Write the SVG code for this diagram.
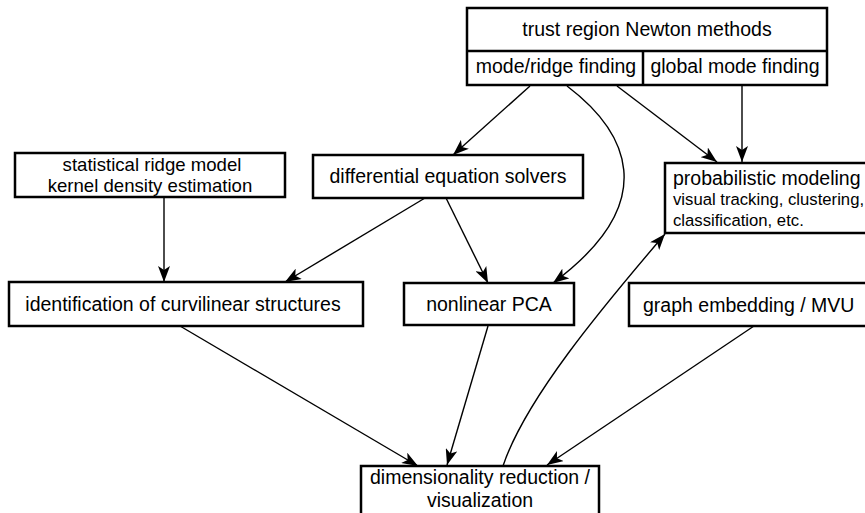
<svg xmlns="http://www.w3.org/2000/svg" width="865" height="513" viewBox="0 0 865 513">
<style>
.box{fill:#fff;stroke:#000;stroke-width:2.5}
.t{font-family:"Liberation Sans",Arial,sans-serif;font-size:19.5px;fill:#000}
.t2{font-family:"Liberation Sans",Arial,sans-serif;font-size:18.6px;fill:#000}
.s{font-family:"Liberation Sans",Arial,sans-serif;font-size:16.7px;fill:#000}
.m{text-anchor:middle}
.c{fill:none;stroke:#000;stroke-width:1.4}
</style>
<defs>
<marker id="ah" viewBox="0 0 16 12" refX="16" refY="6" markerWidth="16" markerHeight="12" markerUnits="userSpaceOnUse" orient="auto">
<path d="M16,6 L0,0 L4,6 L0,12 Z" fill="#000"/>
</marker>
</defs>
<rect width="865" height="513" fill="#fff"/>
<g id="connectors">
<line class="c" x1="530" y1="86" x2="453" y2="155" marker-end="url(#ah)"/>
<path class="c" d="M567,86 C625,130 665,200 553,283" marker-end="url(#ah)"/>
<line class="c" x1="617" y1="86" x2="717" y2="162" marker-end="url(#ah)"/>
<line class="c" x1="742" y1="86" x2="742" y2="162" marker-end="url(#ah)"/>
<line class="c" x1="164" y1="198" x2="164" y2="282" marker-end="url(#ah)"/>
<line class="c" x1="425" y1="198" x2="285" y2="282" marker-end="url(#ah)"/>
<line class="c" x1="446" y1="198" x2="488" y2="283" marker-end="url(#ah)"/>
<line class="c" x1="180" y1="326" x2="418" y2="466" marker-end="url(#ah)"/>
<line class="c" x1="488" y1="326" x2="447" y2="465" marker-end="url(#ah)"/>
<path class="c" d="M503,466 C525,400 600,310 665,234" marker-end="url(#ah)"/>
<line class="c" x1="754" y1="326" x2="547" y2="465" marker-end="url(#ah)"/>
</g>
<g id="trust-region">
<rect class="box" x="467" y="8" width="360" height="77"/>
<line x1="467" y1="51" x2="827" y2="51" stroke="#000" stroke-width="2.5"/>
<line x1="643" y1="51" x2="643" y2="85" stroke="#000" stroke-width="2.5"/>
<text class="t m" x="647" y="36">trust region Newton methods</text>
<text class="t m" x="556" y="73">mode/ridge finding</text>
<text class="t m" x="735" y="73">global mode finding</text>
</g>
<g id="stat-ridge">
<rect class="box" x="15" y="153" width="270" height="44"/>
<text class="t2 m" x="152" y="171">statistical ridge model</text>
<text class="t2 m" x="150" y="192">kernel density estimation</text>
</g>
<g id="diff-eq">
<rect class="box" x="313" y="155" width="270" height="43"/>
<text class="t m" x="448" y="183">differential equation solvers</text>
</g>
<g id="prob-model">
<rect class="box" x="665" y="163" width="210" height="70"/>
<text class="t" x="673" y="185">probabilistic modeling</text>
<text class="s" x="673" y="205">visual tracking, clustering,</text>
<text class="s" x="673" y="226">classification, etc.</text>
</g>
<g id="identification">
<rect class="box" x="9" y="282" width="354" height="44"/>
<text class="t m" x="183" y="311">identification of curvilinear structures</text>
</g>
<g id="nonlinear-pca">
<rect class="box" x="404" y="283" width="170" height="42"/>
<text class="t m" x="489" y="311">nonlinear PCA</text>
</g>
<g id="graph-embedding">
<rect class="box" x="629" y="283" width="240" height="43"/>
<text class="t" x="643" y="312">graph embedding / MVU</text>
</g>
<g id="dim-reduction">
<rect class="box" x="361" y="466" width="238" height="60"/>
<text class="t m" x="480" y="484">dimensionality reduction /</text>
<text class="t m" x="480" y="507">visualization</text>
</g>
</svg>
